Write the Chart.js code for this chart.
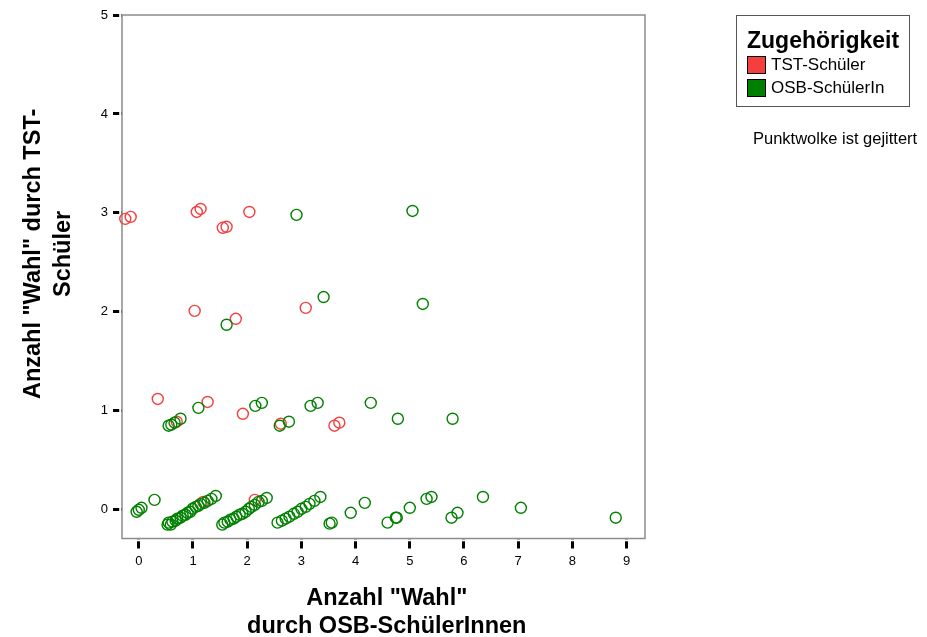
<!DOCTYPE html>
<html>
<head>
<meta charset="utf-8">
<title>Zugehörigkeit</title>
<script src="https://cdn.jsdelivr.net/npm/chart.js@4.4.1/dist/chart.umd.min.js"></script>
<style>
  body { margin: 0; background: #fff; font-family: "Liberation Sans", Arial, sans-serif; }
  #wrap { position: relative; width: 927px; height: 637px; }
  #legendBox { position: absolute; left: 736px; top: 15px; width: 174px; height: 92px; border: 1.5px solid #555; box-sizing: border-box; }
  .lg-title { position: absolute; left: 747px; top: 28px; font-size: 23px; font-weight: bold; line-height: 24px; color: #000; }
  .lg-box { position: absolute; left: 747px; width: 19px; height: 18px; border: 1px solid #000; box-sizing: border-box; }
  .lg-text { position: absolute; left: 771px; font-size: 17px; line-height: 18px; color: #000; }
  .note { position: absolute; left: 753px; top: 129px; font-size: 16.5px; line-height: 18px; color: #000; }
</style>
</head>
<body>
<div id="wrap">
  <canvas id="canvas" width="927" height="637"></canvas>
  <div id="legendBox"></div>
  <div class="lg-title">Zugehörigkeit</div>
  <div id="legendItems"></div>
  <div class="note">Punktwolke ist gejittert</div>
</div>
<script>
// series names + colours (legend order)
var seriesNames = ['TST-Schüler', 'OSB-SchülerIn'];
var seriesColors = ['rgb(245,62,62)', 'rgb(0,128,0)'];

// TST-Schüler (jittered values)
var tstX = [-0.25, -0.15, 1.07, 1.14, 1.55, 1.62, 2.04,
            1.03, 1.79, 3.08,
            0.35, 1.27, 0.70, 1.92, 2.62, 3.61, 3.70,
            1.19, 2.14];
var tstY = [2.94, 2.96, 3.01, 3.04, 2.85, 2.86, 3.01,
            2.01, 1.93, 2.04,
            1.12, 1.09, 0.89, 0.97, 0.87, 0.85, 0.88,
            0.08, 0.10];

// OSB-SchülerIn (jittered values)
var osbX = [2.91, 5.05,
            1.62, 3.41, 5.24,
            1.10, 0.55, 0.60, 0.66, 0.77, 2.15, 2.27, 2.60, 2.77, 3.17, 3.30, 4.28, 4.78, 5.79,
            -0.04, 0.00, 0.05, 0.29,
            0.53, 0.55, 0.59, 0.62, 0.68, 0.71, 0.77, 0.81, 0.86, 0.90, 0.95, 0.99, 1.05, 1.10, 1.14, 1.21, 1.27, 1.34, 1.42,
            1.54, 1.58, 1.64, 1.69, 1.75, 1.80, 1.86, 1.91, 1.97, 2.03, 2.08, 2.14, 2.21, 2.27, 2.36,
            2.56, 2.64, 2.71, 2.78, 2.86, 2.93, 3.00, 3.08, 3.15, 3.24, 3.35,
            3.52, 3.56, 3.91, 4.17, 4.59, 4.74, 4.76, 5.00, 5.31, 5.40, 5.77, 5.88, 6.35, 7.05, 8.80];
var osbY = [2.98, 3.02,
            1.87, 2.15, 2.08,
            1.03, 0.85, 0.86, 0.88, 0.92, 1.05, 1.08, 0.85, 0.89, 1.05, 1.08, 1.08, 0.92, 0.92,
            -0.02, 0.00, 0.02, 0.10,
            -0.15, -0.13, -0.15, -0.12, -0.11, -0.09, -0.08, -0.06, -0.05, -0.03, -0.02, 0.01, 0.03, 0.04, 0.06, 0.07, 0.09, 0.11, 0.14,
            -0.15, -0.13, -0.12, -0.10, -0.09, -0.07, -0.05, -0.04, -0.02, 0.01, 0.03, 0.05, 0.08, 0.09, 0.12,
            -0.13, -0.11, -0.09, -0.07, -0.04, -0.02, 0.01, 0.03, 0.06, 0.09, 0.13,
            -0.14, -0.13, -0.03, 0.07, -0.13, -0.08, -0.08, 0.02, 0.11, 0.13, -0.08, -0.03, 0.13, 0.02, -0.08];

var xTicks = [0, 1, 2, 3, 4, 5, 6, 7, 8, 9];
var yTicks = [0, 1, 2, 3, 4, 5];
var xMin = -0.31, xMax = 9.34;
var yMin = -0.29, yMax = 5;

function toPoints(xs, ys) {
    return xs.map(function (x, i) { return { x: x, y: ys[i] }; });
}

Chart.defaults.font.family = '"Liberation Sans", Arial, sans-serif';

// grey frame round the plot, with small gap before the tick marks
var frame = {
    id: 'frame',
    beforeDatasetsDraw: function (chart) {
        var a = chart.chartArea, ctx = chart.ctx;
        ctx.save();
        ctx.strokeStyle = '#fff';
        ctx.lineWidth = 2;
        ctx.strokeRect(a.left - 1.8, a.top - 1.8, a.right - a.left + 3.6, a.bottom - a.top + 3.6);
        ctx.strokeStyle = '#8c8c8c';
        ctx.lineWidth = 1.5;
        ctx.strokeRect(a.left, a.top, a.right - a.left, a.bottom - a.top);
        ctx.restore();
    }
};

var nb = '\u00a0';
var ctx = document.getElementById('canvas').getContext('2d');
var chart = new Chart(ctx, {
    type: 'scatter',
    data: {
        datasets: [
            {
                label: seriesNames[0],
                data: toPoints(tstX, tstY),
                borderColor: seriesColors[0],
                backgroundColor: 'rgba(0,0,0,0)',
                pointRadius: 5.5,
                borderWidth: 1.4,
                clip: false,
                order: 1
            },
            {
                label: seriesNames[1],
                data: toPoints(osbX, osbY),
                borderColor: seriesColors[1],
                backgroundColor: 'rgba(0,0,0,0)',
                pointRadius: 5.5,
                borderWidth: 1.4,
                clip: false,
                order: 0
            }
        ]
    },
    options: {
        responsive: false,
        animation: false,
        layout: { padding: { left: 0, right: 282, top: 15, bottom: 0 } },
        plugins: { legend: { display: false }, tooltip: { enabled: false } },
        scales: {
            x: {
                type: 'linear',
                min: xMin,
                max: xMax,
                afterBuildTicks: function (s) { s.ticks = xTicks.map(function (v) { return { value: v }; }); },
                afterFit: function (s) { s.height = 98.5; },
                border: { display: false },
                grid: { drawOnChartArea: false, drawTicks: true, tickLength: 10, tickWidth: 3, tickColor: '#000' },
                ticks: { color: '#000', font: { size: 13 }, padding: 5 },
                title: {
                    display: true,
                    text: [nb + 'Anzahl "Wahl"', nb + 'durch OSB-SchülerInnen'],
                    color: '#000',
                    font: { size: 23.5, weight: 'bold', lineHeight: 1.19 },
                    padding: { top: 0, bottom: -3 }
                }
            },
            y: {
                type: 'linear',
                min: yMin,
                max: yMax,
                afterBuildTicks: function (s) { s.ticks = yTicks.map(function (v) { return { value: v }; }); },
                afterFit: function (s) { s.width = 122; },
                border: { display: false },
                grid: { drawOnChartArea: false, drawTicks: true, tickLength: 9, tickWidth: 3, tickColor: '#000' },
                ticks: { color: '#000', font: { size: 13 }, padding: 5 },
                title: {
                    display: true,
                    text: [nb.repeat(7) + 'Anzahl "Wahl" durch TST-', nb.repeat(7) + 'Schüler'],
                    color: '#000',
                    font: { size: 23.5, weight: 'bold', lineHeight: 1.3 },
                    padding: { top: 18, bottom: 0 }
                }
            }
        }
    },
    plugins: [frame]
});

// legend from the series
var items = document.getElementById('legendItems');
seriesNames.forEach(function (name, i) {
    var top = 56 + i * 23;
    var box = document.createElement('div');
    box.className = 'lg-box';
    box.style.top = top + 'px';
    box.style.background = seriesColors[i];
    items.appendChild(box);
    var txt = document.createElement('div');
    txt.className = 'lg-text';
    txt.style.top = top + 'px';
    txt.textContent = name;
    items.appendChild(txt);
});
</script>
</body>
</html>
